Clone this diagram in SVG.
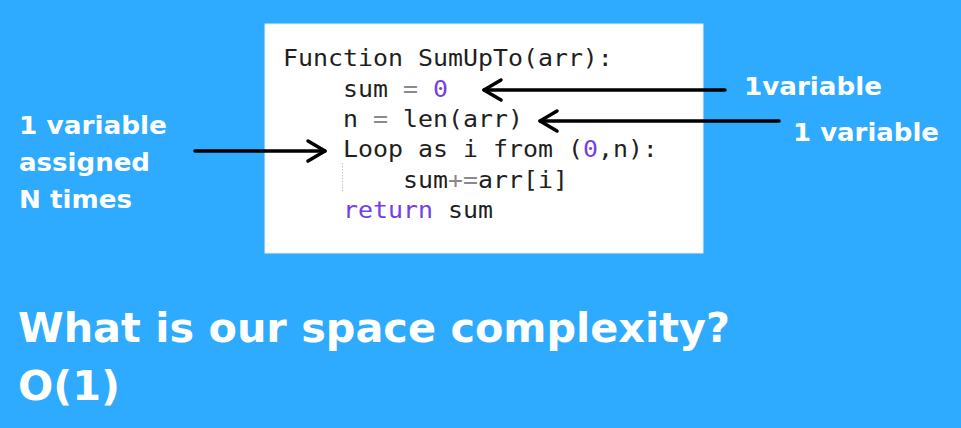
<svg xmlns="http://www.w3.org/2000/svg" width="961" height="428" viewBox="0 0 961 428">
  <defs>
    <style>
      .code { font-family: "DejaVu Sans Mono", "Liberation Mono", monospace; font-size: 23px; fill: #1f1f1f; white-space: pre; }
      .kw { fill: #7440e6; }
      .op { fill: #8a8a8a; }
      .label { font-family: "DejaVu Sans", "Noto Sans", sans-serif; font-weight: bold; font-size: 24.5px; fill: #ffffff; }
      .title { font-family: "DejaVu Sans", "Noto Sans", sans-serif; font-weight: bold; font-size: 41.5px; fill: #ffffff; }
      .arrow { stroke: #000000; stroke-width: 3.5; fill: none; stroke-linecap: round; }
    </style>
    <marker id="head" markerUnits="userSpaceOnUse" viewBox="-22 -13 26 26" markerWidth="26" markerHeight="26" refX="0" refY="0" orient="auto" overflow="visible">
      <path d="M-17,-10 L0,0 L-17,10" fill="none" stroke="#000000" stroke-width="3.5" stroke-linecap="round" stroke-linejoin="round"/>
    </marker>
  </defs>

  <!-- background -->
  <rect x="0" y="0" width="961" height="428" fill="#2eabff"/>

  <!-- code panel -->
  <g id="code-panel">
    <rect x="265" y="24" width="438" height="229" fill="#ffffff" stroke="#e4eef5" stroke-width="1"/>
    <line x1="342.5" y1="163" x2="342.5" y2="192" stroke="#c8c8c8" stroke-width="1" stroke-dasharray="1.5,1.5"/>
    <g transform="translate(283,0) scale(1.083,1)">
      <text class="code" x="0" y="66">Function SumUpTo(arr):</text>
      <text class="code" x="55.4" y="97">sum <tspan class="op">=</tspan> <tspan class="kw">0</tspan></text>
      <text class="code" x="55.4" y="127">n <tspan class="op">=</tspan> len(arr)</text>
      <text class="code" x="55.4" y="157">Loop as i from (<tspan class="kw">0</tspan>,n):</text>
      <text class="code" x="110.8" y="188">sum<tspan class="op">+=</tspan>arr[i]</text>
      <text class="code" x="55.4" y="218"><tspan class="kw">return</tspan> sum</text>
    </g>
  </g>

  <!-- side labels -->
  <g id="label-left">
    <text class="label" x="19" y="134" textLength="148" lengthAdjust="spacingAndGlyphs">1 variable</text>
    <text class="label" x="19" y="171" textLength="131" lengthAdjust="spacingAndGlyphs">assigned</text>
    <text class="label" x="19" y="208" textLength="113" lengthAdjust="spacingAndGlyphs">N times</text>
  </g>
  <g id="label-sum">
    <text class="label" x="744" y="95" textLength="138" lengthAdjust="spacingAndGlyphs">1variable</text>
  </g>
  <g id="label-n">
    <text class="label" x="793" y="141" textLength="146" lengthAdjust="spacingAndGlyphs">1 variable</text>
  </g>

  <!-- connectors -->
  <g id="connectors">
    <path class="arrow" d="M725,90 L484,90" marker-end="url(#head)"/>
    <path class="arrow" d="M779,121 L540,121" marker-end="url(#head)"/>
    <path class="arrow" d="M195,151 L325,151" marker-end="url(#head)"/>
  </g>

  <!-- question and answer -->
  <g id="question">
    <text class="title" x="18" y="342" textLength="712" lengthAdjust="spacingAndGlyphs">What is our space complexity?</text>
    <text class="title" x="18" y="400">O(1)</text>
  </g>
</svg>
